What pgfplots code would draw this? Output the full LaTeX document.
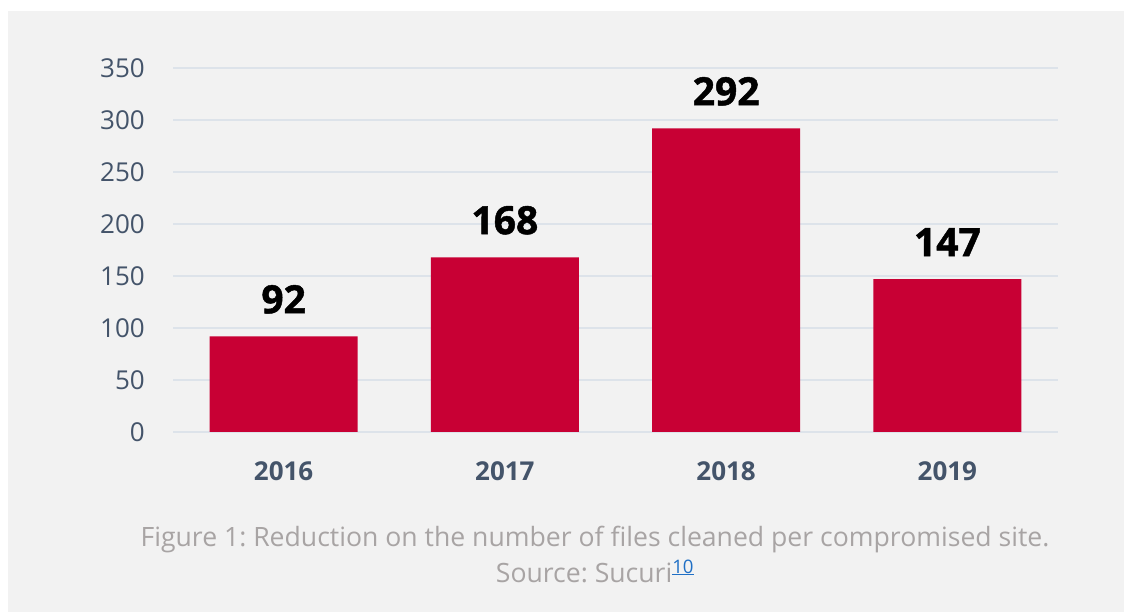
\documentclass[border=0pt]{standalone}
\usepackage{pgfplots}
\pgfplotsset{compat=1.18}
\usepackage{fontspec}
\setmainfont{Open Sans}
\newfontfamily\heavy{Open Sans}[BoldFeatures={FakeBold=1.2}]
\frenchspacing
\definecolor{bg}{HTML}{F2F2F2}
\definecolor{barc}{HTML}{C80034}
\definecolor{tickc}{HTML}{44546A}
\definecolor{gridc}{HTML}{DDE3EA}
\definecolor{capc}{HTML}{A8A4A4}
\definecolor{linkc}{HTML}{1F6FC5}
\begin{document}
\begin{tikzpicture}[x=1pt,y=1pt]
\useasboundingbox (0,0) rectangle (1124,612);
\fill[white] (0,0) rectangle (1124,612);
\fill[bg] (8,0) rectangle (1124,601);
\begin{axis}[
  at={(173pt,180pt)}, anchor=south west,
  scale only axis, width=885pt, height=364pt,
  xmin=-0.5, xmax=3.5, ymin=0, ymax=350,
  axis line style={draw=none},
  ymajorgrids, grid style={gridc, line width=1.6pt},
  ytick={0,50,...,350},
  xtick={0,1,2,3}, xticklabels={2016,2017,2018,2019},
  major tick length=0pt,
  /pgf/number format/assume math mode=true,
  yticklabel style={font=\fontsize{26}{30}\selectfont, text=tickc, inner sep=0pt, anchor=east, xshift=-28pt},
  xticklabel style={font=\fontsize{26}{30}\selectfont\bfseries, text=tickc, inner sep=0pt, anchor=center, yshift=-39pt},
  ybar, bar width=148pt, bar shift=0pt,
  nodes near coords,
  every node near coord/.append style={font=\fontsize{39}{44}\selectfont\heavy\bfseries, text=black, anchor=center, yshift=37pt, inner sep=0pt},
]
\addplot[fill=barc, draw=none] coordinates {(0,92) (1,168) (2,292) (3,147)};
\end{axis}
\node[text=capc, font=\fontsize{26.6}{30}\selectfont] at (595,72) {Figure 1: Reduction on the number of files cleaned per compromised site.};
\node[text=capc, font=\fontsize{26.6}{30}\selectfont] at (595,41) {Source: Sucuri\textsuperscript{\textcolor{linkc}{\underline{10}}}};
\end{tikzpicture}
\end{document}
